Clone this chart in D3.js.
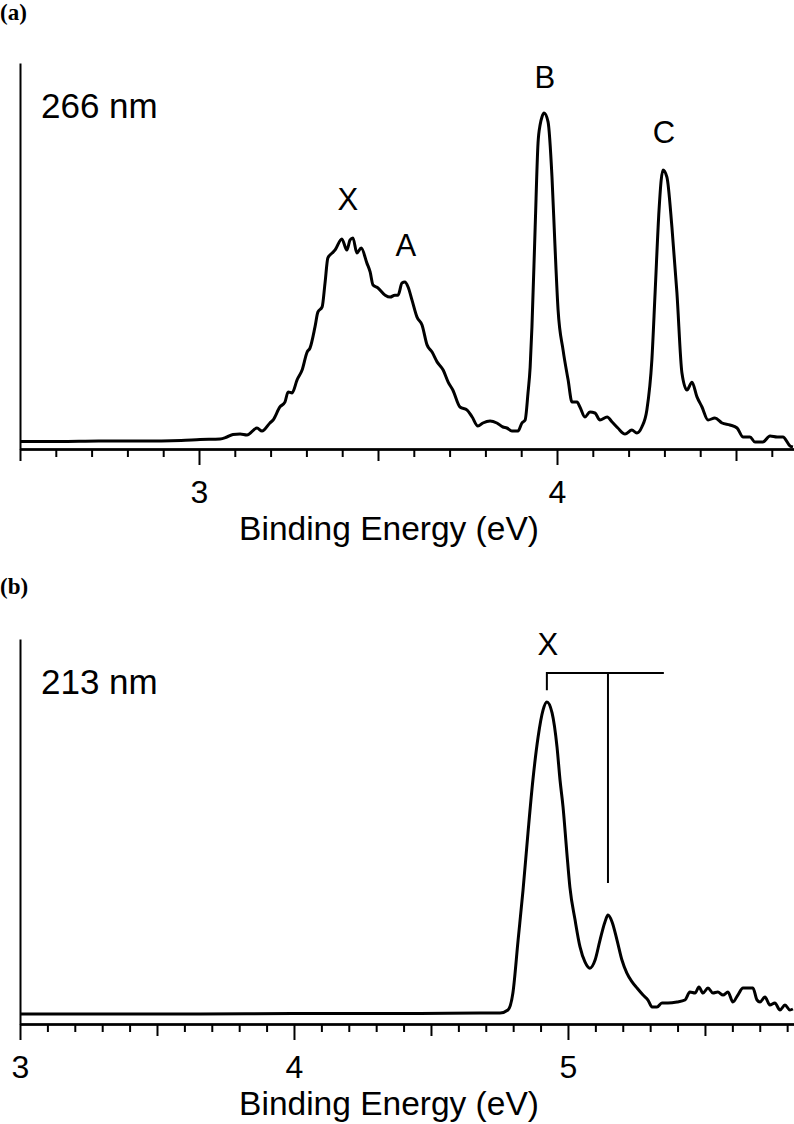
<!DOCTYPE html>
<html>
<head>
<meta charset="UTF-8" />
<script src="https://cdnjs.cloudflare.com/ajax/libs/d3/7.8.5/d3.min.js"></script>
<style>
  body { margin: 0; background: #fff; }
  text { font-family: "Liberation Sans", Arial, sans-serif; fill: #000; }
  .tag { font-family: "Liberation Serif", "Times New Roman", serif; font-weight: bold; font-size: 23px; }
  .tick line, path.domain { stroke: #000; stroke-width: 2px; }
  .tick text { font-size: 32px; }
  .title { font-size: 33.5px; }
  .wl { font-size: 35px; }
  .peak { font-size: 31px; }
  path.trace { fill: none; stroke: #000; stroke-width: 3px; stroke-linejoin: round; }
  .comb { stroke: #000; stroke-width: 2px; fill: none; }
</style>
</head>
<body>
<svg id="fig" width="794" height="1124"></svg>
<script>
// (a) 266 nm spectrum: [binding energy eV, intensity (B peak = 100)]
const spec266 = [
  [2.50, -0.46], [2.61, -0.46], [2.72, -0.31], [2.84, -0.31], [2.95, -0.15],
  [3.003, 0.15], [3.059, 0.31], [3.078, 0.92], [3.095, 1.68], [3.115, 1.83],
  [3.134, 1.53], [3.162, 3.67], [3.176, 2.75], [3.198, 5.2], [3.207, 6.12],
  [3.226, 10.1], [3.240, 11.6], [3.249, 14.7], [3.260, 14.4], [3.274, 18.4],
  [3.288, 21.4], [3.302, 26.9], [3.310, 28.1], [3.324, 34.6], [3.332, 39.1],
  [3.344, 40.7], [3.352, 48.0], [3.360, 55.7], [3.372, 57.2], [3.380, 58.1],
  [3.399, 61.5], [3.413, 58.1], [3.422, 61.2], [3.430, 61.8], [3.441, 57.2],
  [3.453, 58.7], [3.469, 54.1], [3.478, 51.4], [3.486, 47.4], [3.500, 46.5],
  [3.520, 44.3], [3.534, 43.7], [3.547, 44.3], [3.556, 44.3], [3.567, 48.0],
  [3.575, 48.3], [3.584, 46.8], [3.595, 42.8], [3.609, 37.6], [3.623, 35.2],
  [3.637, 29.1], [3.651, 26.9], [3.665, 23.9], [3.682, 21.4], [3.696, 17.7],
  [3.709, 15.3], [3.729, 10.1], [3.749, 9.17], [3.763, 7.03], [3.779, 4.28],
  [3.793, 5.2], [3.813, 5.81], [3.832, 5.2], [3.849, 3.98], [3.860, 3.67],
  [3.874, 2.75], [3.891, 2.75], [3.902, 5.2], [3.911, 6.12], [3.919, 14.4],
  [3.925, 22.3], [3.930, 34.6], [3.939, 65.1], [3.947, 90.8], [3.953, 96.5],
  [3.958, 98.8], [3.964, 100], [3.975, 97.3], [3.986, 80.4], [3.994, 60.2],
  [4.003, 39.8], [4.017, 27.5], [4.031, 18.4], [4.042, 11.6], [4.056, 11.6],
  [4.064, 10.1], [4.078, 7.03], [4.092, 8.56], [4.106, 8.26], [4.120, 6.12],
  [4.140, 7.03], [4.154, 5.5], [4.170, 3.67], [4.190, 1.83], [4.209, 3.06],
  [4.223, 2.14], [4.237, 3.98], [4.251, 9.17], [4.265, 24.5], [4.274, 45.0],
  [4.285, 70.3], [4.291, 79.5], [4.296, 82.6], [4.307, 80.4], [4.321, 65.1],
  [4.335, 45.0], [4.349, 20.5], [4.363, 15.3], [4.377, 17.7], [4.391, 13.2],
  [4.405, 10.1], [4.422, 6.12], [4.441, 6.73], [4.461, 5.2], [4.483, 4.59],
  [4.503, 3.67], [4.520, 0.92], [4.539, 0.92], [4.553, -0.61], [4.575, -0.61],
  [4.595, 1.22], [4.615, 0.92], [4.631, 0.92], [4.651, -1.83], [4.659, -2.14]
];

// (b) 213 nm spectrum: [binding energy eV, intensity (X peak = 100)]
const spec213 = [
  [3.000, 0], [3.292, 0], [3.657, 0], [3.996, 0.16], [4.241, 0.16],
  [4.460, 0.16], [4.679, 0.32], [4.752, 0.32], [4.781, 1.28], [4.799, 6.73],
  [4.818, 23.7], [4.836, 39.7], [4.854, 58.0], [4.872, 75.0], [4.891, 88.8],
  [4.909, 97.4], [4.923, 100], [4.942, 96.5], [4.960, 85.6], [4.971, 75.0],
  [4.982, 66.4], [4.996, 51.6], [5.007, 40.7], [5.026, 30.1], [5.044, 21.5],
  [5.062, 16.7], [5.080, 14.7], [5.099, 17.3], [5.117, 23.7], [5.135, 29.5],
  [5.146, 31.7], [5.161, 29.5], [5.179, 23.7], [5.197, 17.3], [5.215, 13.1],
  [5.234, 10.3], [5.252, 8.33], [5.274, 6.09], [5.292, 4.49], [5.307, 2.24],
  [5.325, 2.24], [5.343, 3.53], [5.365, 3.53], [5.398, 3.85], [5.427, 4.49],
  [5.445, 7.05], [5.464, 6.73], [5.478, 8.65], [5.493, 6.73], [5.511, 8.33],
  [5.529, 6.73], [5.547, 7.05], [5.566, 6.09], [5.584, 7.05], [5.602, 3.85],
  [5.620, 6.09], [5.639, 8.33], [5.664, 8.33], [5.675, 8.33], [5.690, 4.49],
  [5.701, 3.85], [5.719, 5.45], [5.737, 2.88], [5.755, 3.53], [5.774, 1.28],
  [5.792, 2.88], [5.810, 1.28], [5.821, 1.6]
];

// peak labels: [text, eV, intensity]
const peaks266 = [["X", 3.416, 70.3], ["A", 3.578, 56.3], ["B", 3.966, 107.6], ["C", 4.299, 90.8]];
const peaks213 = [["X", 4.927, 115.1]];

// vibrational comb in (b): origin, first level, end of bar
const combE = [4.923, 5.146, 5.35];
const combI = [109.3, 103.8, 42.0];

const majorA = [3, 4], halfA = [2.5, 3.5, 4.5];
const majorB = [3, 4, 5], halfB = [3.5, 4.5, 5.5];

const svg = d3.select("#fig");

function panel(cfg) {
  const x = d3.scaleLinear().domain(cfg.xDomain).range([20, 794]);
  const y = d3.scaleLinear().domain(cfg.yDomain).range([cfg.bottom, cfg.top]);
  const g = svg.append("g");

  const all = d3.range(Math.round(cfg.xDomain[0] * 10), Math.floor(cfg.xDomain[1] * 10) + 1).map(d => d / 10);
  const minor = all.filter(v => !cfg.major.includes(v) && !cfg.half.includes(v));

  const minorAx = d3.axisBottom(x).tickValues(minor).tickSize(8).tickSizeOuter(0).tickFormat("");
  const halfAx = d3.axisBottom(x).tickValues(cfg.half).tickSize(12).tickSizeOuter(0).tickFormat("");
  const majorAx = d3.axisBottom(x).tickValues(cfg.major).tickSize(16).tickSizeOuter(0).tickFormat(d3.format("d"));

  g.append("g").attr("transform", `translate(0,${cfg.bottom})`).call(minorAx);
  g.append("g").attr("transform", `translate(0,${cfg.bottom})`).call(halfAx);
  const gx = g.append("g").attr("transform", `translate(0,${cfg.bottom})`).call(majorAx);
  gx.selectAll("text").attr("y", 54).attr("dy", 0);

  g.append("g").attr("transform", `translate(20,0)`)
    .call(d3.axisLeft(y).tickValues([]).tickSizeOuter(0));

  g.append("text").attr("class", "title")
    .attr("x", 389).attr("y", cfg.bottom + 91)
    .attr("text-anchor", "middle").text("Binding Energy (eV)");

  g.append("text").attr("class", "wl")
    .attr("x", 41).attr("y", cfg.top + 55).text(cfg.wl);

  g.append("text").attr("class", "tag")
    .attr("x", 0).attr("y", cfg.tagY).text(cfg.tag);

  const line = d3.line().x(d => x(d[0])).y(d => y(d[1])).curve(d3.curveMonotoneX);
  g.append("path").datum(cfg.data).attr("class", "trace").attr("d", line);

  g.selectAll("text.peak").data(cfg.peaks).enter().append("text")
    .attr("class", "peak").attr("text-anchor", "middle")
    .attr("x", d => x(d[1])).attr("y", d => y(d[2])).text(d => d[0]);

  return { g, x, y };
}

panel({
  xDomain: [2.5, 4.662], yDomain: [-2.75, 115.3], top: 63, bottom: 449,
  major: majorA, half: halfA, data: spec266, peaks: peaks266,
  wl: "266 nm", tag: "(a)", tagY: 20
});

const pb = panel({
  xDomain: [3, 5.825], yDomain: [-3.2, 120.2], top: 639, bottom: 1024,
  major: majorB, half: halfB, data: spec213, peaks: peaks213,
  wl: "213 nm", tag: "(b)", tagY: 594
});

// progression comb
pb.g.append("path").attr("class", "comb").attr("d", d3.line()([
  [pb.x(combE[0]), pb.y(combI[1])], [pb.x(combE[0]), pb.y(combI[0])], [pb.x(combE[2]), pb.y(combI[0])]
]));
pb.g.append("line").attr("class", "comb")
  .attr("x1", pb.x(combE[1])).attr("x2", pb.x(combE[1]))
  .attr("y1", pb.y(combI[0])).attr("y2", pb.y(combI[2]));
</script>
</body>
</html>
